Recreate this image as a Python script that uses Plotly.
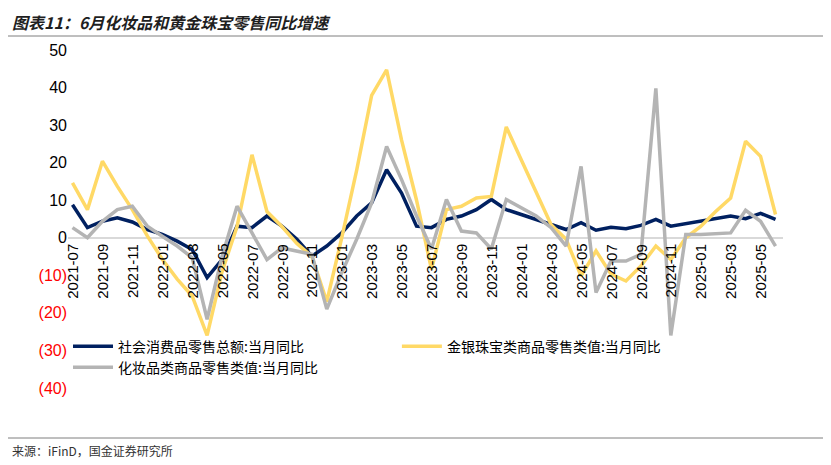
import plotly.graph_objects as go
import pandas as pd

months = pd.date_range('2021-07-01', '2025-06-01', freq='MS').strftime('%Y-%m').tolist()

retail = [8.8, 2.7, 4.4, 5.3, 4.2, 2.2, 0.9, -0.9, -3.1, -10.6, -5.8, 3.1,
          2.7, 5.8, 3.1, -0.4, -4.9, -2.2, 1.3, 5.8, 9.3, 18.1, 11.9, 3.1,
          2.7, 4.9, 5.8, 7.5, 10.2, 7.5, 6.2, 4.9, 3.5, 2.2, 4.0, 2.0,
          2.8, 2.4, 3.3, 4.9, 3.1, 3.8, 4.4, 5.0, 5.8, 5.1, 6.5, 4.9]
gold = [14.6, 7.5, 20.4, 13.7, 7.5, 0.5, -5.7, -11.0, -15.5, -26.0, -9.0, 3.0,
        22.1, 7.0, 3.0, -1.5, -5.0, -17.0, 0.0, 18.0, 37.9, 44.7, 26.0, 10.0,
        -8.4, 7.5, 8.4, 10.6, 11.0, 29.5, 20.8, 12.0, 3.5, -0.4, -10.2, -3.5,
        -9.7, -11.5, -7.5, -2.2, -5.8, 0.0, 3.0, 7.0, 10.6, 25.7, 21.7, 6.2]
cosmetics = [2.7, 0.0, 4.4, 7.5, 8.4, 3.1, 0.4, -2.2, -5.3, -21.7, -5.0, 8.4,
             1.3, -5.8, -2.7, -3.5, -4.4, -19.0, -9.3, -0.4, 9.3, 24.3, 15.5, 5.8,
             -3.0, 10.2, 1.8, 1.3, -3.0, 10.2, 8.0, 5.8, 2.7, -2.2, 19.0, -14.6,
             -6.2, -6.2, -4.4, 39.8, -26.0, 0.9, 0.9, 1.1, 1.3, 7.3, 4.4, -2.2]

names = ['社会消费品零售总额:当月同比', '金银珠宝类商品零售类值:当月同比', '化妆品类商品零售类值:当月同比']
colors = ['#002060', '#FFD966', '#B4B4B4']
yticks = [50, 40, 30, 20, 10, 0, -10, -20, -30, -40]

font = 'Noto Sans CJK SC'
fig = go.Figure()
for name, vals, c in [(names[0], retail, colors[0]), (names[1], gold, colors[1]), (names[2], cosmetics, colors[2])]:
    fig.add_trace(go.Scatter(x=months, y=vals, mode='lines', name=name, line=dict(color=c, width=3.5)))

ticktext = [str(v) if v >= 0 else "<span style='color:#FF0000'>(%d)</span>" % -v for v in yticks]

fig.update_layout(
    width=831, height=465, plot_bgcolor='white', paper_bgcolor='white',
    margin=dict(l=60, r=56, t=42, b=85),
    font=dict(family=font, size=14, color='black'),
    showlegend=True,
    legend=dict(orientation='h', x=0.0, y=0.17, xanchor='left', yanchor='top',
                entrywidth=0.46, entrywidthmode='fraction', font=dict(size=14, family=font),
                bgcolor='rgba(0,0,0,0)', tracegroupgap=0, itemwidth=40),
    xaxis=dict(type='category', showticklabels=False, showgrid=False, zeroline=False,
               range=[-0.3, len(months) - 0.5]),
    yaxis=dict(range=[-40, 50], tickvals=yticks, ticktext=ticktext, showgrid=False,
               zeroline=True, zerolinecolor='#D9D9D9', zerolinewidth=1.5, ticks='',
               tickfont=dict(family='Arial', size=16)),
)

# x tick labels drawn at y=0
for i, m in enumerate(months):
    if i % 2 == 0:
        fig.add_annotation(x=m, y=0, xref='x', yref='y', text=m, textangle=-90,
                           showarrow=False, yanchor='top', yshift=-4,
                           font=dict(family='Arial', size=15, color='black'))

fig.add_annotation(x=0, y=1, xref='paper', yref='paper', xanchor='left', yanchor='top',
                   text='<b><i>图表11：6月化妆品和黄金珠宝零售同比增速</i></b>', showarrow=False,
                   font=dict(size=16, color='#1F1F1F', family=font), xshift=-58, yshift=42)
fig.add_shape(type='line', xref='paper', yref='paper', x0=-60/715, x1=1 + 54/715, y0=1 + 14/338, y1=1 + 14/338,
              line=dict(color='#7F7F7F', width=1))
fig.add_shape(type='line', xref='paper', yref='paper', x0=-60/715, x1=1 + 54/715, y0=-50/338, y1=-50/338,
              line=dict(color='#7F7F7F', width=1))
fig.add_annotation(x=0, y=0, xref='paper', yref='paper', xanchor='left', yanchor='top',
                   text='来源：iFinD，国金证券研究所', showarrow=False,
                   font=dict(size=12, color='#333333', family=font), xshift=-58, yshift=-52)

fig.write_html('out.html')
